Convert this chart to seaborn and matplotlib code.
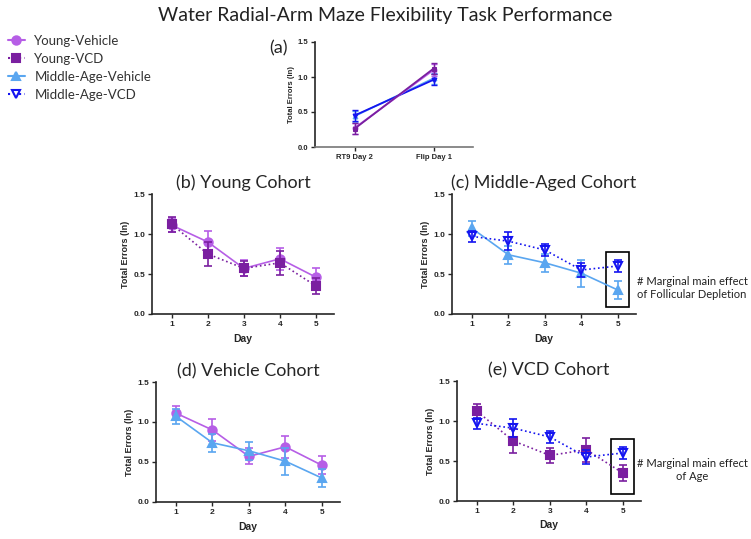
import seaborn as sns
import numpy as np
import pandas as pd
import matplotlib.pyplot as plt
from matplotlib.patches import Rectangle
from matplotlib.lines import Line2D

# values (mean, SEM), days 1-5
days = [1, 2, 3, 4, 5]
young_veh = [1.11, 0.90, 0.57, 0.69, 0.46]
young_veh_sem = [0.09, 0.14, 0.10, 0.14, 0.11]
young_vcd = [1.12, 0.75, 0.57, 0.64, 0.35]
young_vcd_sem = [0.09, 0.15, 0.09, 0.15, 0.10]
mid_veh = [1.07, 0.74, 0.64, 0.51, 0.30]
mid_veh_sem = [0.09, 0.11, 0.11, 0.17, 0.11]
mid_vcd = [0.97, 0.91, 0.80, 0.55, 0.60]
mid_vcd_sem = [0.07, 0.11, 0.07, 0.09, 0.08]

# panel (a): last baseline day vs first flip day
phase = ["RT9 Day 2", "Flip Day 1"]
phase_young_veh = [0.27, 1.10]
phase_young_vcd = [0.26, 1.12]
phase_mid_veh = [0.44, 0.98]
phase_mid_vcd = [0.45, 0.96]
phase_sem = [0.08, 0.08]

groups = ["Young-Vehicle", "Young-VCD", "Middle-Age-Vehicle", "Middle-Age-VCD"]
colors = {"Young-Vehicle": "#b65ee6", "Young-VCD": "#7a1fa0",
          "Middle-Age-Vehicle": "#5aa6f0", "Middle-Age-VCD": "#1414f0"}
markers = {"Young-Vehicle": "o", "Young-VCD": "s",
           "Middle-Age-Vehicle": "^", "Middle-Age-VCD": "v"}
styles = {"Young-Vehicle": "-", "Young-VCD": ":",
          "Middle-Age-Vehicle": "-", "Middle-Age-VCD": ":"}
series = {"Young-Vehicle": (young_veh, young_veh_sem),
          "Young-VCD": (young_vcd, young_vcd_sem),
          "Middle-Age-Vehicle": (mid_veh, mid_veh_sem),
          "Middle-Age-VCD": (mid_vcd, mid_vcd_sem)}

sns.set_style("ticks")
plt.rcParams["font.family"] = ["Liberation Sans", "DejaVu Sans"]
SOFT = ["Lato", "DejaVu Sans"]

W, H = 751, 539
fig = plt.figure(figsize=(W / 100, H / 100), dpi=100)


def px_axes(left, top, right, bottom):
    return fig.add_axes([left / W, 1 - bottom / H, (right - left) / W, (bottom - top) / H])


def style_ax(ax, xlabel=True):
    ax.set_ylim(0, 1.5)
    ax.set_yticks([0, 0.5, 1.0, 1.5])
    ax.set_yticklabels(["0.0", "0.5", "1.0", "1.5"])
    for s in ["top", "right"]:
        ax.spines[s].set_visible(False)
    for s in ["left", "bottom"]:
        ax.spines[s].set_linewidth(1.2)
    ax.tick_params(labelsize=6, length=3, width=1, pad=2)
    for t in ax.get_xticklabels() + ax.get_yticklabels():
        t.set_fontweight("bold")
    ax.set_ylabel("Total Errors (ln)", fontsize=6.5, fontweight="bold", labelpad=2)
    ax.set_xlabel("Day" if xlabel else "", fontsize=7.5, fontweight="bold", labelpad=4)


def draw_panel(ax, names, title, dotted_all=False):
    for g in names:
        mean, sem = series[g]
        df = pd.DataFrame({"Day": days, "Errors": mean})
        ls = ":" if dotted_all else styles[g]
        mfc = "white" if g == "Middle-Age-VCD" else colors[g]
        sns.lineplot(data=df, x="Day", y="Errors", ax=ax, color=colors[g],
                     linestyle=ls, linewidth=1.2, marker=markers[g], markersize=6,
                     markerfacecolor=mfc, markeredgecolor=colors[g], markeredgewidth=1.5)
        ax.errorbar(days, mean, yerr=sem, fmt="none", ecolor=colors[g],
                    elinewidth=1.2, capsize=3, capthick=1.2)
    ax.set_xlim(0.45, 5.5)
    ax.set_xticks(days)
    style_ax(ax)
    ax.set_title(title, fontsize=13, family=SOFT, pad=4)


# title
fig.text(385 / W, 1 - 16 / H, "Water Radial-Arm Maze Flexibility Task Performance",
         ha="center", va="center", fontsize=14, family=SOFT, color="#222222")

# panel (a)
ax_a = px_axes(315, 42, 473, 147)
phase_vals = {"Young-Vehicle": phase_young_veh, "Young-VCD": phase_young_vcd,
              "Middle-Age-Vehicle": phase_mid_veh, "Middle-Age-VCD": phase_mid_vcd}
for g in ["Middle-Age-Vehicle", "Middle-Age-VCD", "Young-Vehicle", "Young-VCD"]:
    df = pd.DataFrame({"x": [0, 1], "y": phase_vals[g]})
    sns.lineplot(data=df, x="x", y="y", ax=ax_a, color=colors[g], linewidth=1.3,
                 marker=markers[g], markersize=3.5, markeredgecolor=colors[g])
    ax_a.errorbar([0, 1], phase_vals[g], yerr=phase_sem, fmt="none", ecolor=colors[g],
                  elinewidth=1, capsize=2.5, capthick=1)
ax_a.set_xlim(-0.5, 1.5)
ax_a.set_xticks([0, 1])
ax_a.set_xticklabels(phase)
style_ax(ax_a, xlabel=False)
ax_a.tick_params(labelsize=5.5)
for t in ax_a.get_xticklabels() + ax_a.get_yticklabels():
    t.set_fontweight("bold")
ax_a.set_ylabel("Total Errors (ln)", fontsize=5.5, fontweight="bold", labelpad=2)
ax_a.spines["bottom"].set_color("#777777")
fig.text(279 / W, 1 - 48 / H, "(a)", ha="center", va="center", fontsize=13, family=SOFT)

# panels (b)-(e)
ax_b = px_axes(152, 194, 334, 314)
draw_panel(ax_b, ["Young-Vehicle", "Young-VCD"], "(b) Young Cohort")
ax_c = px_axes(452, 194, 636, 314)
draw_panel(ax_c, ["Middle-Age-Vehicle", "Middle-Age-VCD"], "(c) Middle-Aged Cohort")
ax_d = px_axes(156, 382, 340, 502)
draw_panel(ax_d, ["Young-Vehicle", "Middle-Age-Vehicle"], "(d) Vehicle Cohort")
ax_e = px_axes(457, 381, 641, 501)
draw_panel(ax_e, ["Young-VCD", "Middle-Age-VCD"], "(e) VCD Cohort", dotted_all=True)

# boxes around day 5 and notes
for ax, note, ny in [(ax_c, "# Marginal main effect\nof Follicular Depletion", 288),
                     (ax_e, "# Marginal main effect\nof Age", 470)]:
    ax.add_patch(Rectangle((4.69, 0.09), 0.62, 0.69, fill=False, edgecolor="black",
                           linewidth=1.2, clip_on=False))
    fig.text(692 / W, 1 - ny / H, note, ha="center", va="center", fontsize=8,
             family=SOFT, linespacing=1.3, color="#222222")

# legend
handles = []
for g in groups:
    mfc = "white" if g == "Middle-Age-VCD" else colors[g]
    handles.append(Line2D([], [], color=colors[g], linestyle=styles[g], linewidth=1.5,
                          marker=markers[g], markersize=6, markerfacecolor=mfc,
                          markeredgecolor=colors[g], markeredgewidth=1.5))
leg = fig.legend(handles, groups, loc="upper left", bbox_to_anchor=(0.0, 1 - 27 / H),
                 frameon=False, handlelength=1.3, handletextpad=0.7,
                 labelspacing=0.45, borderaxespad=0.2, prop={"family": SOFT, "size": 9.5})
for t in leg.get_texts():
    t.set_color("#333333")

fig.savefig("out.png", dpi=100)
